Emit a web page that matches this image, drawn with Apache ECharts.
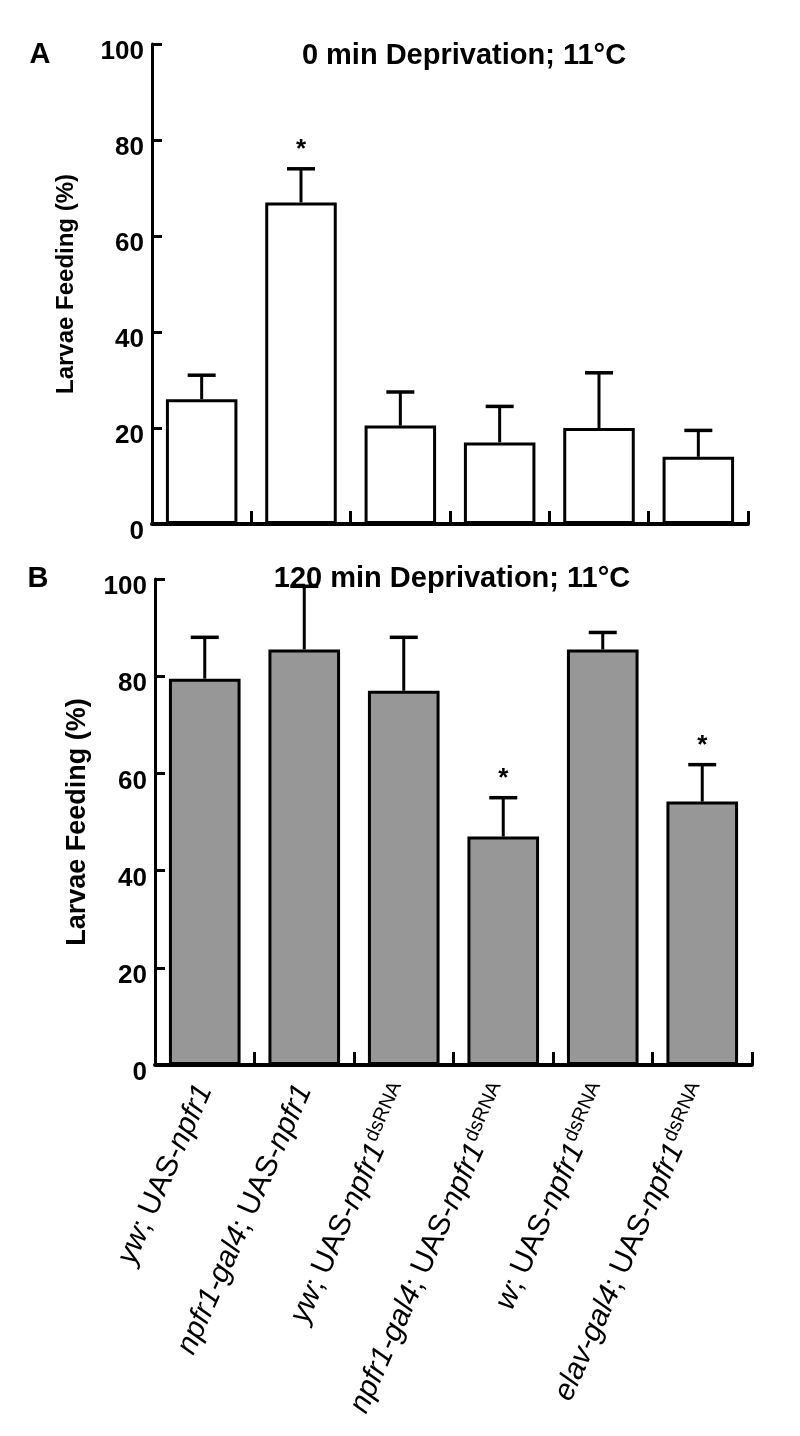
<!DOCTYPE html>
<html>
<head>
<meta charset="utf-8">
<script src="https://cdn.jsdelivr.net/npm/echarts@6/dist/echarts.min.js"></script>
<style>
html,body{margin:0;padding:0;background:#fff;}
#chart{width:800px;height:1436px;}
</style>
</head>
<body>
<div id="chart"></div>
<script>
// ---- data ----
const categories = ['yw; UAS-npfr1', 'npfr1-gal4; UAS-npfr1', 'yw; UAS-npfr1^dsRNA',
                    'npfr1-gal4; UAS-npfr1^dsRNA', 'w; UAS-npfr1^dsRNA', 'elav-gal4; UAS-npfr1^dsRNA'];
const yTicks = [0, 20, 40, 60, 80, 100];
const titleA = '0 min Deprivation; 11°C';
const titleB = '120 min Deprivation; 11°C';
const yName = 'Larvae Feeding (%)';
const meanA = [26, 67, 20.5, 17, 20, 14];
const errTopA = [31, 74, 27.5, 24.5, 31.5, 19.5];
const sigA = [false, true, false, false, false, false];
const meanB = [79.5, 85.5, 77, 47, 85.5, 54.2];
const errTopB = [88, 98.5, 88, 55, 89, 61.8];
const sigB = [false, false, false, true, false, true];

// ---- chart ----
const FONT = '"Liberation Sans", Arial, sans-serif';
const chart = echarts.init(document.getElementById('chart'));

function labelFmt(v) {
  const parts = v.split('; ');
  const geno = parts[0];
  let rest = parts[1].replace('UAS-', '');
  let sup = '';
  if (rest.indexOf('^') >= 0) { sup = rest.split('^')[1]; rest = rest.split('^')[0]; }
  let s = '{i|' + geno + '}{r|; UAS-}{i|' + rest + '}';
  if (sup) s += '{s|' + sup + '}';
  return s;
}

function makeErr(mean, top, sig, xi, yi) {
  return {
    type: 'custom', xAxisIndex: xi, yAxisIndex: yi, z: 5,
    data: mean.map((m, i) => [i, m, top[i], sig[i] ? 1 : 0]),
    renderItem: function (params, api) {
      const p0 = api.coord([api.value(0), api.value(1)]);
      const p1 = api.coord([api.value(0), api.value(2)]);
      const children = [
        {type: 'line', shape: {x1: p0[0], y1: p0[1], x2: p1[0], y2: p1[1]}, style: {stroke: '#000', lineWidth: 3}},
        {type: 'line', shape: {x1: p1[0] - 14, y1: p1[1], x2: p1[0] + 14, y2: p1[1]}, style: {stroke: '#000', lineWidth: 3.5}}
      ];
      if (api.value(3) === 1) {
        children.push({type: 'text', x: p1[0], y: p1[1] - 19,
          style: {text: '*', fontSize: 26, fontWeight: 'bold', fontFamily: FONT, fill: '#000', align: 'center', verticalAlign: 'middle'}});
      }
      return {type: 'group', children: children};
    }
  };
}

const yAxisBase = (gap, nameSize) => ({
  type: 'value', min: 0, max: 100, interval: 20,
  name: yName, nameLocation: 'middle', nameGap: gap, nameRotate: 90,
  nameTextStyle: {fontSize: nameSize, fontWeight: 'bold', fontFamily: FONT, color: '#000'},
  axisLine: {show: true, lineStyle: {color: '#000', width: 3}},
  axisTick: {show: true, inside: true, length: 10, lineStyle: {color: '#000', width: 3}},
  axisLabel: {formatter: v => '{a|' + v + '}', margin: 8,
    rich: {a: {fontSize: 26, fontWeight: 'bold', fontFamily: FONT, color: '#000', padding: [16, 0, 0, 0]}}},
  splitLine: {show: false}
});

const option = {
  animation: false,
  backgroundColor: '#fff',
  grid: [
    {left: 152, right: 52, top: 44, bottom: 912},
    {left: 155, right: 48, top: 579, bottom: 371}
  ],
  xAxis: [
    {type: 'category', gridIndex: 0, data: categories,
     axisLine: {lineStyle: {color: '#000', width: 4}},
     axisTick: {show: true, inside: true, length: 13, interval: 0, lineStyle: {color: '#000', width: 3}},
     axisLabel: {show: false}},
    {type: 'category', gridIndex: 1, data: categories,
     axisLine: {lineStyle: {color: '#000', width: 4}},
     axisTick: {show: true, inside: true, length: 13, interval: 0, lineStyle: {color: '#000', width: 3}},
     axisLabel: {show: true, interval: 0, rotate: 66, margin: 21, formatter: labelFmt,
       rich: {
         i: {fontSize: 30, fontStyle: 'italic', fontFamily: FONT, color: '#000', lineHeight: 36},
         r: {fontSize: 30, fontFamily: FONT, color: '#000', lineHeight: 36},
         s: {fontSize: 20, fontFamily: FONT, color: '#000', lineHeight: 36, verticalAlign: 'top', padding: [0, 0, 0, 1]}
       }}}
  ],
  yAxis: [
    Object.assign(yAxisBase(74, 24), {gridIndex: 0}),
    Object.assign(yAxisBase(64, 27), {gridIndex: 1})
  ],
  graphic: [
    {type: 'text', x: 40, y: 55, style: {text: 'A', fontSize: 29, fontWeight: 'bold', fontFamily: FONT, fill: '#000', align: 'center', verticalAlign: 'middle'}},
    {type: 'text', x: 38, y: 579, style: {text: 'B', fontSize: 29, fontWeight: 'bold', fontFamily: FONT, fill: '#000', align: 'center', verticalAlign: 'middle'}},
    {type: 'text', x: 464, y: 56, z: 10, style: {text: titleA, fontSize: 29, fontWeight: 'bold', fontFamily: FONT, fill: '#000', align: 'center', verticalAlign: 'middle'}},
    {type: 'text', x: 452, y: 579, z: 10, style: {text: titleB, fontSize: 29, fontWeight: 'bold', fontFamily: FONT, fill: '#000', align: 'center', verticalAlign: 'middle'}}
  ],
  series: [
    {type: 'bar', xAxisIndex: 0, yAxisIndex: 0, data: meanA, barWidth: '72%',
     itemStyle: {color: '#fff', borderColor: '#000', borderWidth: 3}},
    makeErr(meanA, errTopA, sigA, 0, 0),
    {type: 'bar', xAxisIndex: 1, yAxisIndex: 1, data: meanB, barWidth: '72%',
     itemStyle: {color: '#979797', borderColor: '#000', borderWidth: 3}},
    makeErr(meanB, errTopB, sigB, 1, 1)
  ]
};
chart.setOption(option);
</script>
</body>
</html>
